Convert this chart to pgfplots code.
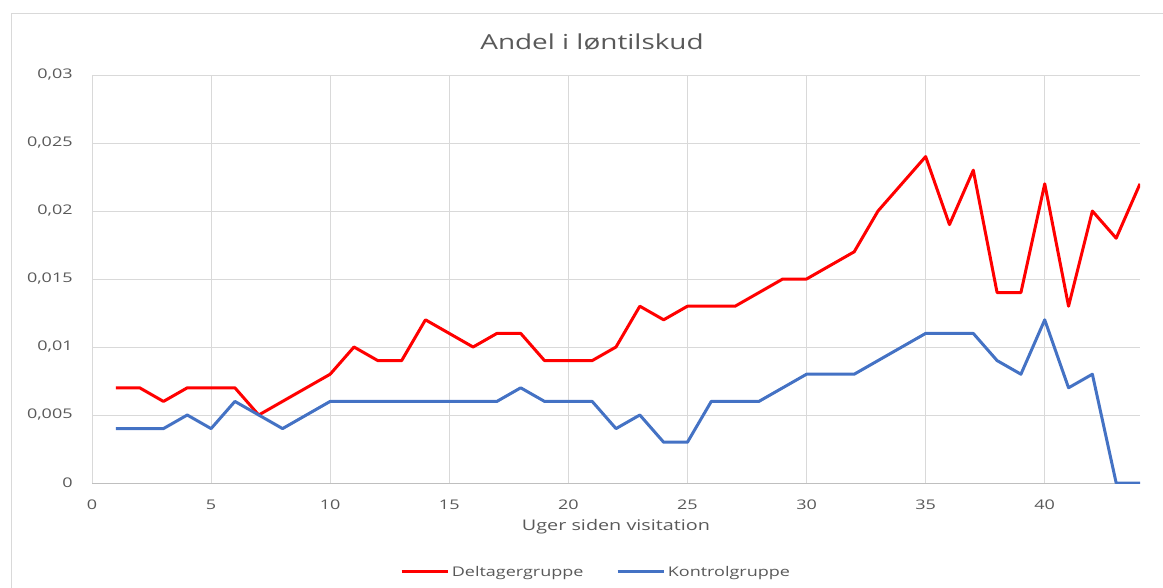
\documentclass[border=0pt]{standalone}
\usepackage{fontspec}
\setmainfont[FakeStretch=1.35]{Open Sans}
\usepackage{pgfplots}
\pgfplotsset{compat=1.18}

\definecolor{txtgray}{HTML}{595959}
\definecolor{gridgray}{HTML}{D9D9D9}
\definecolor{axgray}{HTML}{BFBFBF}
\definecolor{xlred}{HTML}{FF0000}
\definecolor{xlblue}{HTML}{4472C4}

\begin{document}
\begin{tikzpicture}
% picture frame: 1163x588 px, 1px = 0.75pt
\path[use as bounding box] (0,0) rectangle (872.25pt,-441pt);
\draw[gridgray, line width=0.75pt] (8.25pt,-441pt) -- (8.25pt,-10.1pt) -- (872.25pt,-10.1pt);

\node[text=txtgray, font=\fontsize{15.5}{18}\selectfont] at (444pt,-31.5pt) {Andel i løntilskud};

\begin{axis}[
    at={(69pt,-362.25pt)}, anchor=south west,
    width=786pt, height=306pt, scale only axis,
    xmin=0, xmax=44,
    ymin=0, ymax=0.03,
    xtick={0,5,...,40},
    ytick={0,0.005,0.01,0.015,0.02,0.025,0.03},
    scaled y ticks=false,
    /pgf/number format/assume math mode=true,
    yticklabel style={/pgf/number format/fixed, /pgf/number format/precision=3,
        /pgf/number format/use comma, xshift=-11pt},
    xticklabel style={yshift=-9pt},
    ticklabel style={text=txtgray, font=\fontsize{10}{12}\selectfont},
    major tick length=0pt,
    grid=major,
    major grid style={gridgray, line width=0.75pt},
    axis x line*=bottom, axis y line*=left,
    x axis line style={draw=axgray, line width=0.75pt, -},
    y axis line style={draw=none},
    xlabel={Uger siden visitation},
    xlabel style={at={(axis description cs:0.5,-0.108)}, anchor=center,
        text=txtgray, font=\fontsize{11}{13}\selectfont},
    legend style={at={(0.481,-0.218)}, anchor=center, draw=none,
        legend columns=2, text=txtgray, font=\fontsize{10}{12}\selectfont,
        /tikz/every even column/.append style={column sep=23pt},
        nodes={inner sep=1.5pt}},
    legend image code/.code={\draw[#1] (0pt,0pt) -- (35pt,0pt);},
    every axis plot/.append style={line width=2.25pt, line join=round},
]
\addplot[xlred, mark=none] coordinates {
(1,0.007)(2,0.007)(3,0.006)(4,0.007)(5,0.007)(6,0.007)(7,0.005)(8,0.006)
(9,0.007)(10,0.008)(11,0.010)(12,0.009)(13,0.009)(14,0.012)(15,0.011)
(16,0.010)(17,0.011)(18,0.011)(19,0.009)(20,0.009)(21,0.009)(22,0.010)
(23,0.013)(24,0.012)(25,0.013)(26,0.013)(27,0.013)(28,0.014)(29,0.015)
(30,0.015)(31,0.016)(32,0.017)(33,0.020)(34,0.022)(35,0.024)(36,0.019)
(37,0.023)(38,0.014)(39,0.014)(40,0.022)(41,0.013)(42,0.020)(43,0.018)
(44,0.022)
};
\addlegendentry{Deltagergruppe}
\addplot[xlblue, mark=none] coordinates {
(1,0.004)(2,0.004)(3,0.004)(4,0.005)(5,0.004)(6,0.006)(7,0.005)(8,0.004)
(9,0.005)(10,0.006)(11,0.006)(12,0.006)(13,0.006)(14,0.006)(15,0.006)
(16,0.006)(17,0.006)(18,0.007)(19,0.006)(20,0.006)(21,0.006)(22,0.004)
(23,0.005)(24,0.003)(25,0.003)(26,0.006)(27,0.006)(28,0.006)(29,0.007)
(30,0.008)(31,0.008)(32,0.008)(33,0.009)(34,0.010)(35,0.011)(36,0.011)
(37,0.011)(38,0.009)(39,0.008)(40,0.012)(41,0.007)(42,0.008)(43,0)
(44,0)
};
\addlegendentry{Kontrolgruppe}
\end{axis}
\end{tikzpicture}
\end{document}
